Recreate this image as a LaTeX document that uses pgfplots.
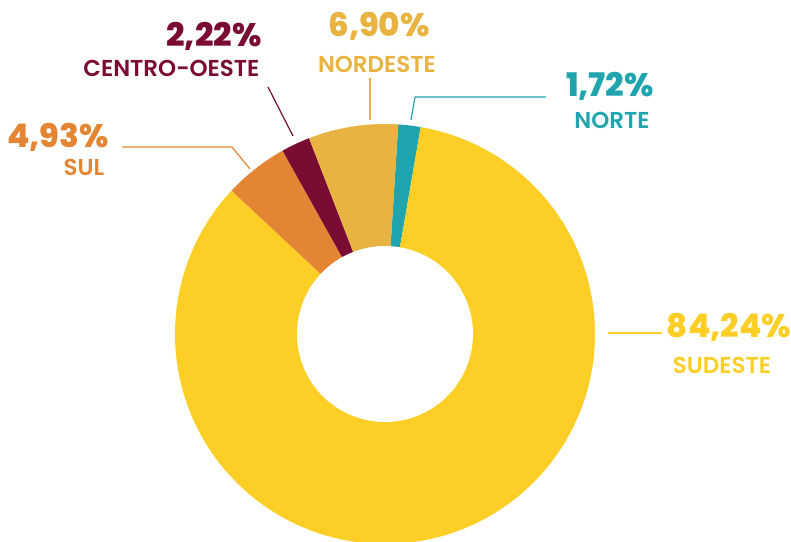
\documentclass[border=0pt]{standalone}
\usepackage{pgfplots}
\pgfplotsset{compat=1.18}
\usepackage{fontspec}
\setmainfont{Poppins}
\newfontfamily\numfont{Poppins ExtraBold}
\newfontfamily\labfont{Poppins SemiBold}

\definecolor{cSudeste}{HTML}{FDCE26}
\definecolor{cNordeste}{HTML}{E8B341}
\definecolor{cNorte}{HTML}{20A5AF}
\definecolor{cCentro}{HTML}{7A0B33}
\definecolor{cSul}{HTML}{E38533}

% shares (%), clockwise from the top
\def\vNorte{1.72}
\def\vSudeste{84.24}
\def\vSul{4.93}
\def\vCentro{2.22}
\def\vNordeste{6.90}

\begin{document}
\begin{tikzpicture}
% pixel-like coordinates: 791 x 541, y up
\pgfmathsetmacro\aA{86.4}
\pgfmathsetmacro\aB{\aA-3.6*\vNorte}
\pgfmathsetmacro\aC{\aB-3.6*\vSudeste}
\pgfmathsetmacro\aD{\aC-3.6*\vSul}
\pgfmathsetmacro\aE{\aD-3.6*\vCentro}
\pgfmathsetmacro\aF{\aE-3.6*\vNordeste}
\begin{axis}[
    scale only axis,
    width=791pt, height=541pt,
    xmin=0, xmax=791, ymin=0, ymax=541,
    hide axis,
    clip=true,
    ]
\addplot[fill=cNorte, draw=none, domain=\aB:\aA, samples=20] ({385+210*cos(x)},{207+210*sin(x)}) -- (axis cs:385,207) -- cycle;
\addplot[fill=cSudeste, draw=none, domain=\aC:\aB, samples=200] ({385+210*cos(x)},{207+210*sin(x)}) -- (axis cs:385,207) -- cycle;
\addplot[fill=cSul, draw=none, domain=\aD:\aC, samples=30] ({385+210*cos(x)},{207+210*sin(x)}) -- (axis cs:385,207) -- cycle;
\addplot[fill=cCentro, draw=none, domain=\aE:\aD, samples=20] ({385+210*cos(x)},{207+210*sin(x)}) -- (axis cs:385,207) -- cycle;
\addplot[fill=cNordeste, draw=none, domain=\aF:\aE, samples=40] ({385+210*cos(x)},{207+210*sin(x)}) -- (axis cs:385,207) -- cycle;
\addplot[fill=white, draw=none, domain=0:360, samples=150] ({385+88*cos(x)},{207+88*sin(x)});

% leader lines
\draw[cSudeste, line width=1.2pt] (axis cs:608,208) -- (axis cs:662,208);
\draw[cNorte, line width=1.2pt] (axis cs:411,421) -- (axis cs:415,444) -- (axis cs:546,444);
\draw[cNordeste, line width=1.2pt] (axis cs:370,421) -- (axis cs:370,463);
\draw[cCentro, line width=1.2pt] (axis cs:293,405) -- (axis cs:268,454);
\draw[cSul, line width=1.2pt] (axis cs:250,372) -- (axis cs:232,394) -- (axis cs:122,394);

% labels
\node[anchor=base, text=cSudeste, font=\numfont\fontsize{32.5}{34}\selectfont] at (axis cs:729,204) {84,24\%};
\node[anchor=base, text=cSudeste, font=\labfont\fontsize{23}{25}\selectfont] at (axis cs:722,168) {SUDESTE};
\node[anchor=base, text=cNorte, font=\numfont\fontsize{32.5}{34}\selectfont] at (axis cs:610,444) {1,72\%};
\node[anchor=base, text=cNorte, font=\labfont\fontsize{23}{25}\selectfont] at (axis cs:612,412) {NORTE};
\node[anchor=base, text=cNordeste, font=\numfont\fontsize{32.5}{34}\selectfont] at (axis cs:379,504) {6,90\%};
\node[anchor=base, text=cNordeste, font=\labfont\fontsize{23}{25}\selectfont] at (axis cs:377,468) {NORDESTE};
\node[anchor=base, text=cCentro, font=\numfont\fontsize{32.5}{34}\selectfont] at (axis cs:214,494) {2,22\%};
\node[anchor=base east, text=cCentro, font=\labfont\fontsize{23}{25}\selectfont] at (axis cs:263,464) {CENTRO-OESTE};
\node[anchor=base, text=cSul, font=\numfont\fontsize{32.5}{34}\selectfont] at (axis cs:58,393) {4,93\%};
\node[anchor=base, text=cSul, font=\labfont\fontsize{23}{25}\selectfont] at (axis cs:84,365) {SUL};
\end{axis}
\path (current axis.south west) rectangle (current axis.north east);
\end{tikzpicture}
\end{document}
